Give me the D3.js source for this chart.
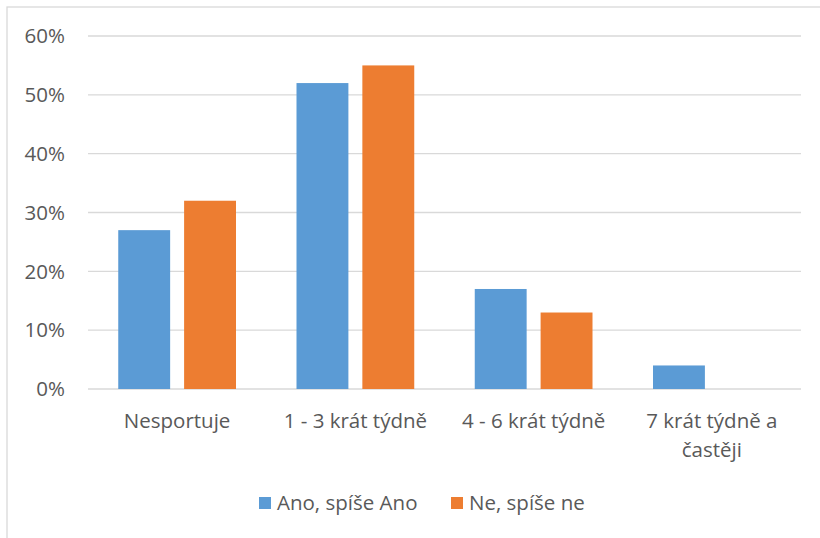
<!DOCTYPE html>
<meta charset="utf-8">
<html>
<head>
  <script src="https://d3js.org/d3.v7.min.js"></script>
  <style>
    body { margin: 0; background: #fff; }
    text { font-family: "Open Sans", "Noto Sans", sans-serif; fill: #595959; }
  </style>
</head>
<body>
<div id="chart"></div>
<script>
// data
var categories = ["Nesportuje", "1 - 3 krát týdně", "4 - 6 krát týdně", "7 krát týdně a častěji"];
var seriesNames = ["Ano, spíše Ano", "Ne, spíše ne"];
var ano = [0.27, 0.52, 0.17, 0.04];
var ne = [0.32, 0.55, 0.13, 0.00];
var yTicks = [0, 0.1, 0.2, 0.3, 0.4, 0.5, 0.6];
var colors = ["#5b9bd5", "#ed7d31"];

var width = 820, height = 538;
var margin = {left: 88, right: 19, top: 36, bottom: 149};
var fontSize = "20.5px";

var svg = d3.select("#chart").append("svg")
    .attr("width", width)
    .attr("height", height);

// chart border (only top and left show in the picture)
svg.append("rect")
    .attr("x", 7).attr("y", 7)
    .attr("width", 830).attr("height", 560)
    .attr("fill", "none")
    .attr("stroke", "#d9d9d9")
    .attr("stroke-width", 1.3);

var x = d3.scaleBand()
    .domain(categories)
    .range([margin.left, width - margin.right]);

var y = d3.scaleLinear()
    .domain([0, 0.6])
    .range([height - margin.bottom, margin.top]);

var x1 = d3.scaleBand()
    .domain(seriesNames)
    .range([30.25, x.bandwidth() - 30.25])
    .paddingInner(0.212);

// gridlines
svg.append("g")
  .selectAll("line")
  .data(yTicks)
  .enter().append("line")
    .attr("x1", margin.left)
    .attr("x2", width - margin.right)
    .attr("y1", function(d) { return y(d); })
    .attr("y2", function(d) { return y(d); })
    .attr("stroke", "#d9d9d9")
    .attr("stroke-width", 1.3);

// y axis labels
svg.append("g")
  .selectAll("text")
  .data(yTicks)
  .enter().append("text")
    .attr("x", 65)
    .attr("y", function(d) { return y(d); })
    .attr("dy", "0.35em")
    .attr("text-anchor", "end")
    .style("font-size", fontSize)
    .text(d3.format(".0%"));

// bars
var rows = categories.map(function(c, i) { return {cat: c, vals: [ano[i], ne[i]]}; });

var group = svg.append("g")
  .selectAll("g")
  .data(rows)
  .enter().append("g")
    .attr("transform", function(d) { return "translate(" + x(d.cat) + ",0)"; });

group.selectAll("rect")
  .data(function(d) { return d.vals.map(function(v, j) { return {name: seriesNames[j], v: v, j: j}; }); })
  .enter().append("rect")
    .attr("x", function(d) { return x1(d.name); })
    .attr("width", x1.bandwidth())
    .attr("y", function(d) { return y(d.v); })
    .attr("height", function(d) { return y(0) - y(d.v); })
    .attr("fill", function(d) { return colors[d.j]; });

// category labels (wrap the long one)
var catLines = {
  "7 krát týdně a častěji": ["7 krát týdně a", "častěji"]
};
categories.forEach(function(c) {
  var lines = catLines[c] || [c];
  var t = svg.append("text")
      .attr("text-anchor", "middle")
      .style("font-size", fontSize);
  lines.forEach(function(l, k) {
    t.append("tspan")
      .attr("x", x(c) + x.bandwidth() / 2)
      .attr("y", 428 + k * 28.5)
      .text(l);
  });
});

// legend
var legendX = [259, 451];
seriesNames.forEach(function(s, i) {
  svg.append("rect")
    .attr("x", legendX[i]).attr("y", 497)
    .attr("width", 12).attr("height", 12)
    .attr("fill", colors[i]);
  svg.append("text")
    .attr("x", legendX[i] + 18)
    .attr("y", 510)
    .style("font-size", fontSize)
    .text(s);
});
</script>
</body>
</html>
